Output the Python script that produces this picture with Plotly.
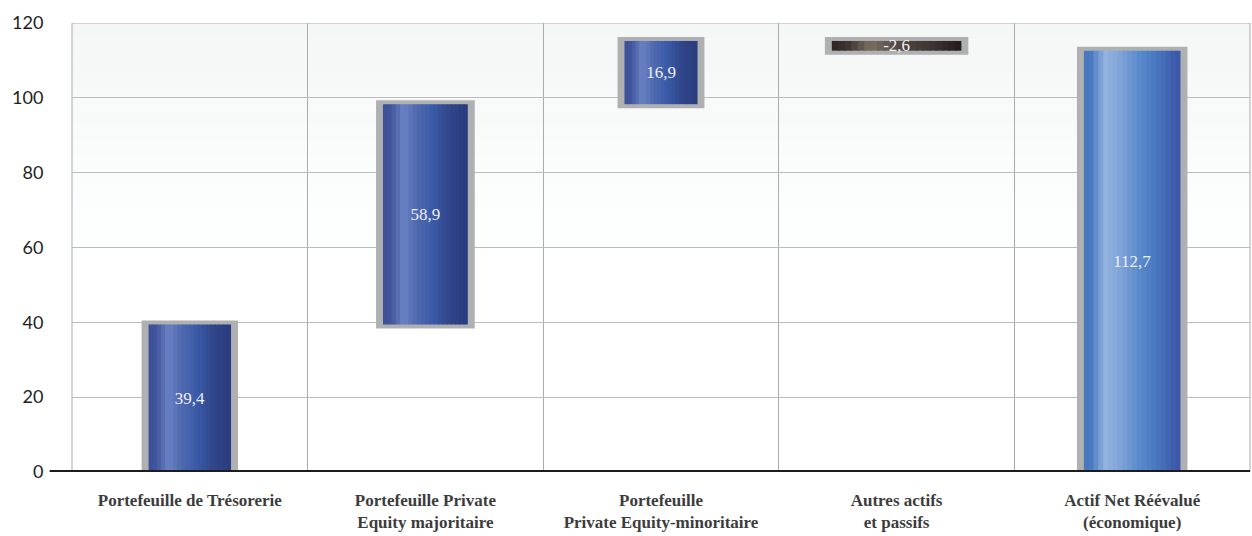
import plotly.graph_objects as go

# ---- data ----
categories = [
    "Portefeuille de Trésorerie",
    "Portefeuille Private<br>Equity majoritaire",
    "Portefeuille<br>Private Equity-minoritaire",
    "Autres actifs<br>et passifs",
    "Actif Net Réévalué<br>(économique)",
]
values = [39.4, 58.9, 16.9, -2.6, 112.7]
measures = ["relative", "relative", "relative", "relative", "total"]
value_labels = ["39,4", "58,9", "16,9", "-2,6", "112,7"]
y_ticks = [0, 20, 40, 60, 80, 100, 120]

# ---- styles (kept separate from data) ----
bar_widths = [0.35, 0.36, 0.31, 0.55, 0.41]
grad_inc = [(0.0, "#3c4e95"), (0.1, "#42569d"), (0.24, "#6a82c3"), (0.4, "#5069af"),
            (0.58, "#3a5ba8"), (0.78, "#30468a"), (1.0, "#293c7d")]
grad_tot = [(0.0, "#4675bc"), (0.08, "#4a7bc0"), (0.22, "#94b4df"), (0.38, "#7fa3d8"),
            (0.56, "#5c8bcc"), (0.72, "#4a7bc2"), (0.9, "#4061b0"), (1.0, "#3a55a5")]
grad_dec = [(0.0, "#2d2624"), (0.12, "#3c3431"), (0.3, "#7a6f63"), (0.5, "#544a43"),
            (0.8, "#3a3230"), (1.0, "#221b19")]
N_STRIPES = 20


def hex2rgb(h):
    h = h.lstrip("#")
    return tuple(int(h[i:i + 2], 16) for i in (0, 2, 4))


def interp(stops, t):
    for (t0, c0), (t1, c1) in zip(stops[:-1], stops[1:]):
        if t0 <= t <= t1:
            f = 0 if t1 == t0 else (t - t0) / (t1 - t0)
            a, b = hex2rgb(c0), hex2rgb(c1)
            return "rgb(%d,%d,%d)" % tuple(round(a[i] + (b[i] - a[i]) * f) for i in range(3))
    return stops[-1][1]


fig = go.Figure()

# soft grey gradient at the top of the plot area
top_bands = 14
for i in range(top_bands):
    y1 = 120 - i * 4.5
    y0 = y1 - 4.5
    g = round(246 + (255 - 246) * i / (top_bands - 1))
    fig.add_shape(type="rect", xref="paper", x0=0, x1=1, yref="y", y0=y0, y1=y1,
                  fillcolor="rgb(%d,%d,%d)" % (g - 1, g, g), line_width=0, layer="below")

common = dict(x=categories, y=values, measure=measures,
              connector=dict(visible=False), showlegend=False, hoverinfo="skip")

# frame (grey border) behind the bars
fw = [w + 0.025 for w in bar_widths]
frame_marker = dict(marker=dict(color="#c2c3c5", line=dict(color="#afb0b2", width=8)))
fig.add_trace(go.Waterfall(**common, width=fw, offset=[-w / 2 for w in fw],
                           increasing=frame_marker, decreasing=frame_marker, totals=frame_marker))

# gradient stripes
for k in range(N_STRIPES):
    s, e = k / N_STRIPES, (k + 1) / N_STRIPES
    t = (s + e) / 2
    ew = min(1.0, e + 0.01) - s
    fig.add_trace(go.Waterfall(
        **common,
        width=[ew * w for w in bar_widths],
        offset=[-w / 2 + s * w for w in bar_widths],
        increasing=dict(marker=dict(color=interp(grad_inc, t), line=dict(width=0))),
        decreasing=dict(marker=dict(color=interp(grad_dec, t), line=dict(width=0))),
        totals=dict(marker=dict(color=interp(grad_tot, t), line=dict(width=0))),
    ))

# value labels
clear = dict(marker=dict(color="rgba(0,0,0,0)", line=dict(width=0)))
lab_font = dict(family="Liberation Serif", size=17, color="#eef0fa")
fig.add_trace(go.Waterfall(
    **common,
    width=bar_widths, offset=[-w / 2 for w in bar_widths],
    increasing=clear, decreasing=clear, totals=clear,
    text=value_labels, textposition="inside", insidetextanchor="middle",
    constraintext="none",
    textfont=lab_font, insidetextfont=lab_font, outsidetextfont=lab_font,
))

# plot frame lines (left, top, right)
for x0, x1, y0, y1 in [(0, 0, 0, 120), (0, 1, 120, 120), (1, 1, 0, 120)]:
    fig.add_shape(type="line", xref="paper", x0=x0, x1=x1, yref="y", y0=y0, y1=y1,
                  line=dict(color="#ababab", width=1), layer="below")

# thick zero line
fig.add_shape(type="line", xref="paper", x0=-0.019, x1=1, yref="y", y0=0, y1=0,
              line=dict(color="#1c1c1c", width=4), layer="above")

fig.update_layout(
    width=1252, height=536,
    margin=dict(l=72, r=2, t=23, b=64),
    paper_bgcolor="white", plot_bgcolor="white",
    waterfallmode="overlay",
    showlegend=False,
    xaxis=dict(
        type="category", range=[-0.5, 4.5], tickson="boundaries",
        showgrid=True, gridcolor="#ababab", gridwidth=1,
        ticks="", ticklabelstandoff=16,
        showline=False, zeroline=False,
        tickfont=dict(family="Liberation Serif", size=17, color="#3c3c3c", weight="bold"),
    ),
    yaxis=dict(
        range=[0, 120], tickvals=y_ticks, ticktext=[str(v) for v in y_ticks],
        showgrid=True, gridcolor="#bcbcbc", gridwidth=1,
        ticks="outside", ticklen=24, tickcolor="rgba(0,0,0,0)",
        zeroline=False, showline=False,
        tickfont=dict(family="Lato", size=18, color="#1e1e1e"),
    ),
)

fig.write_html("out.html")
